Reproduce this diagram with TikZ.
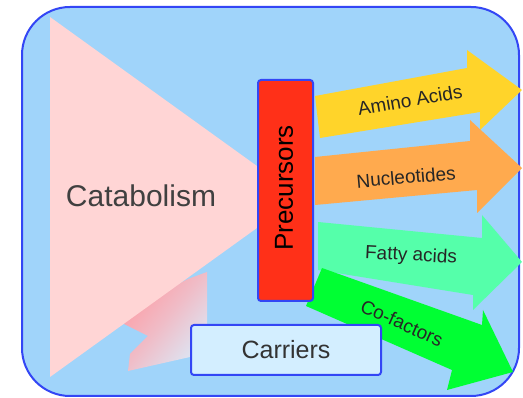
\documentclass[tikz,border=0pt]{standalone}
\usepackage{fontspec}
\setmainfont{Liberation Sans}
\definecolor{bgblue}{HTML}{A0D4FA}
\definecolor{bblue}{HTML}{3346F5}
\definecolor{tripink}{HTML}{FFD5D5}
\definecolor{precred}{HTML}{FF3018}
\definecolor{aayellow}{HTML}{FFD42A}
\definecolor{nuorange}{HTML}{FFAA4E}
\definecolor{falgreen}{HTML}{55FFAA}
\definecolor{cogreen}{HTML}{00FF33}
\definecolor{carfill}{HTML}{D3EEFF}
\definecolor{arrpink}{HTML}{FF9AA2}
\definecolor{arrpale}{HTML}{DDE6F4}
\begin{document}
\begin{tikzpicture}[x=1pt,y=-1pt,
  boxstyle/.style={draw=bblue, line width=2pt, rounded corners=3pt},
  arrlbl/.style={font=\fontsize{19}{22}\selectfont, text=black!85, inner sep=0pt}]
\useasboundingbox (0,0) rectangle (523,398);
\fill[white] (0,0) rectangle (523,398);
% outer frame
\draw[fill=bgblue, draw=bblue, line width=2pt, rounded corners=48pt] (22,7) rectangle (519,396);
% gradient arrow (behind triangle)
\shade[top color=arrpink, bottom color=arrpale, middle color=arrpink!55!arrpale, shading angle=50]
  (207,272) -- (207,362) -- (190,357) -- (128,371) -- (130,354) -- (148,336)
  -- (120,322) -- (150,300) -- (163,292) -- (188,279) -- cycle;
% catabolism triangle
\fill[tripink] (50,17) -- (300,197) -- (50,377) -- cycle;
\node[font=\fontsize{30}{36}\selectfont, text=black!75, inner sep=0pt] (cat) at (141,196) {Catabolism};
% output arrows
\fill[aayellow] (315,96) -- (467,68) -- (467,50) -- (522,90) -- (480,130) -- (480,112) -- (320,138) -- cycle;
\fill[nuorange] (315,157) -- (470,141) -- (470,120) -- (522,168) -- (477,213) -- (477,190) -- (315,205) -- cycle;
\fill[falgreen] (318,222) -- (482,238) -- (482,215) -- (522,262) -- (473,310) -- (473,295) -- (318,270) -- cycle;
\fill[cogreen] (322,268) -- (482,325) -- (483,310) -- (513,372) -- (447,390) -- (452,370) -- (306,306) -- cycle;
\node[arrlbl, rotate=10] (aa) at (410,100) {Amino Acids};
\node[arrlbl, rotate=5] (nu) at (406,177) {Nucleotides};
\node[arrlbl, rotate=-3] (fa) at (411,256) {Fatty acids};
\node[arrlbl, rotate=-24] (co) at (402,323) {Co-factors};
% precursors box
\node[boxstyle, fill=precred, minimum width=55pt, minimum height=221pt, inner sep=0pt] (prec) at (285.5,190.5) {};
\node[rotate=90, font=\fontsize{26}{30}\selectfont, inner sep=0pt] (prectxt) at (284,188) {Precursors};
% carriers box
\node[boxstyle, fill=carfill, minimum width=190pt, minimum height=50pt, inner sep=0pt] (car) at (286,350) {};
\node[font=\fontsize{25}{30}\selectfont, text=black!80, inner sep=0pt] (cartxt) at (286,350) {Carriers};
\end{tikzpicture}
\end{document}
